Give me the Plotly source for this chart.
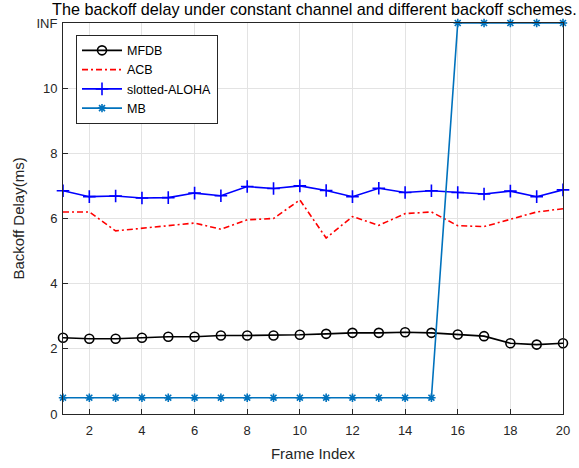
import plotly.graph_objects as go

frames = list(range(1, 21))
mfdb = [2.34, 2.31, 2.31, 2.34, 2.37, 2.37, 2.41, 2.41, 2.41, 2.43,
        2.46, 2.49, 2.49, 2.51, 2.49, 2.44, 2.39, 2.17, 2.13, 2.17]
acb = [6.20, 6.20, 5.62, 5.70, 5.78, 5.86, 5.67, 5.96, 6.00, 6.57,
       5.40, 6.06, 5.79, 6.15, 6.20, 5.78, 5.75, 5.98, 6.20, 6.30]
aloha = [6.85, 6.67, 6.69, 6.63, 6.64, 6.78, 6.70, 6.98, 6.92, 7.00,
         6.86, 6.67, 6.93, 6.80, 6.85, 6.80, 6.75, 6.84, 6.67, 6.88]
INF_VAL = 12
mb = [0.5] * 15 + [INF_VAL] * 5

ytick_vals = [0, 2, 4, 6, 8, 10, 12]
ytick_text = ["0", "2", "4", "6", "8", "10", "INF"]
xtick_vals = [2, 4, 6, 8, 10, 12, 14, 16, 18, 20]

FONT = "Arial, Liberation Sans"

fig = go.Figure()
fig.add_trace(go.Scatter(x=frames, y=mfdb, name="MFDB", mode="lines+markers",
                         line=dict(color="black", width=1.6),
                         marker=dict(symbol="circle-open", size=9, color="black",
                                     line=dict(width=1.6, color="black")),
                         cliponaxis=False))
fig.add_trace(go.Scatter(x=frames, y=acb, name="ACB", mode="lines",
                         line=dict(color="#FF0000", width=1.6, dash="6px,3px,2px,3px")))
fig.add_trace(go.Scatter(x=frames, y=aloha, name="slotted-ALOHA", mode="lines+markers",
                         line=dict(color="#0000FF", width=1.6),
                         marker=dict(symbol="cross-thin-open", size=9, color="#0000FF",
                                     line=dict(width=1.6, color="#0000FF")),
                         cliponaxis=False))
fig.add_trace(go.Scatter(x=frames, y=mb, name="MB", mode="lines+markers",
                         line=dict(color="#0072BD", width=1.6),
                         marker=dict(symbol="asterisk-open", size=7, color="#0072BD",
                                     line=dict(width=1.6, color="#0072BD")),
                         cliponaxis=False))

axis_common = dict(showline=True, linecolor="#262626", linewidth=1, mirror=True,
                   ticks="inside", ticklen=5, tickcolor="#262626",
                   showgrid=True, gridcolor="#E3E3E3", gridwidth=1, zeroline=False,
                   automargin=False,
                   tickfont=dict(family=FONT, size=13, color="#262626"))

fig.update_layout(
    width=579, height=468,
    margin=dict(l=63, r=16, t=23, b=54),
    paper_bgcolor="white", plot_bgcolor="white",
    title=dict(text="The backoff delay under constant channel and different backoff schemes.",
               x=0.543, xanchor="center", y=0.9915, yanchor="top",
               font=dict(family=FONT, size=16.2, color="black")),
    xaxis=dict(range=[1, 20], tickvals=xtick_vals, ticklabelstandoff=4,
               title=dict(text="Frame Index", standoff=11,
                          font=dict(family=FONT, size=15, color="#262626")),
               **axis_common),
    yaxis=dict(range=[0, 12], tickvals=ytick_vals, ticktext=ytick_text,
               ticklabelstandoff=2,
               title=dict(text="Backoff Delay(ms)", standoff=8,
                          font=dict(family=FONT, size=15, color="#262626")),
               **axis_common),
    legend=dict(x=0.026, y=0.97, xanchor="left", yanchor="top",
                bgcolor="white", bordercolor="#262626", borderwidth=1,
                font=dict(family=FONT, size=12.5, color="black"),
                tracegroupgap=0, itemwidth=40),
    showlegend=True,
)

fig.write_html("out.html", config={"displayModeBar": False},
               post_script="document.body.style.margin='0';")
